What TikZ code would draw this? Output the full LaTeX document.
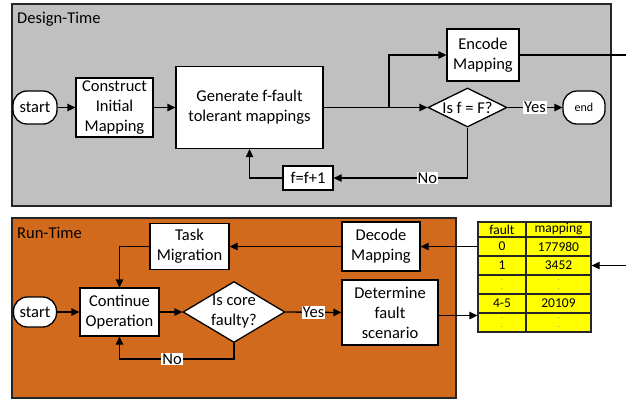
\documentclass[tikz,border=0pt]{standalone}
\usepackage{fontspec}
\setmainfont{Carlito}
\usetikzlibrary{shapes.geometric,arrows.meta}
\definecolor{dtgrey}{RGB}{192,192,192}
\definecolor{rtorange}{RGB}{210,106,30}
\definecolor{tblyellow}{RGB}{255,255,0}
\begin{document}
\begin{tikzpicture}[x=1pt,y=-1pt,
  font=\fontsize{16.5}{20}\selectfont,
  every node/.style={inner sep=0pt, align=center},
  procbox/.style={draw, fill=white, line width=1.3pt},
  termbox/.style={draw, fill=white, line width=1.3pt, rounded corners=14pt},
  decbox/.style={diamond, draw, fill=white, line width=1.3pt},
  lane/.style={draw=black!85, line width=1.8pt, anchor=north west},
  lanelabel/.style={anchor=west},
  arr/.style={line width=1.3pt, -{Triangle[length=8pt,width=7.5pt]}},
  conn/.style={line width=1.3pt},
  lbl/.style={fill=white, inner sep=1pt},
  cell/.style={draw=black!85, fill=tblyellow, line width=1.3pt,
    font=\fontsize{13.5}{14}\selectfont},
  dotcell/.style={cell, font=\fontsize{7}{9}\selectfont, text=black!60}
]
\useasboundingbox (0,0) rectangle (626,400);

% swim lanes
\node[lane, fill=dtgrey, minimum width=599, minimum height=202] (dt) at (11,3) {};
\node[lanelabel] (dtl) at (17,19) {Design-Time};
\node[lane, fill=rtorange, minimum width=444, minimum height=180] (rt) at (11,217) {};
\node[lanelabel] (rtl) at (17,233) {Run-Time};

% design-time flow
\node[termbox, minimum width=44, minimum height=33] (s1) at (35,107.5) {start};
\node[procbox, minimum width=77, minimum height=59] (cim) at (114.5,107.5) {Construct\\Initial\\Mapping};
\node[procbox, minimum width=147, minimum height=82] (gen) at (249.5,107.5) {Generate f-fault\\tolerant mappings};
\node[procbox, minimum width=72, minimum height=52] (enc) at (483,55) {Encode\\Mapping};
\node[decbox, minimum width=79, minimum height=39, label={center:Is f = F?}] (d1) at (467.5,107.5) {};
\node[termbox, minimum width=42, minimum height=33, font=\fontsize{12}{14}\selectfont] (e1) at (584,107.5) {end};
\node[procbox, minimum width=50, minimum height=24] (ff) at (308,178) {f=f+1};

\coordinate (br) at (389,107.5);
\coordinate (encout) at (626,55);
\draw[arr] (s1) -- (cim);
\draw[arr] (cim) -- (gen);
\draw[arr] (gen.east) -- (d1.west);
\draw[arr] (br) |- (enc.west);
\draw[conn] (enc.east) -- (encout);
\draw[arr] (d1.east) -- node[lbl]{Yes} (e1.west);
\draw[arr] (d1.south) |- node[lbl, pos=0.65]{No} (ff.east);
\draw[arr] (ff.west) -| (gen.south);

% run-time flow
\node[termbox, minimum width=43, minimum height=30] (s2) at (35,312) {start};
\node[procbox, minimum width=79, minimum height=48] (cont) at (119.5,312) {Continue\\Operation};
\node[decbox, minimum width=102, minimum height=61, label={center:Is core\\faulty?}] (d2) at (234,312) {};
\node[procbox, minimum width=96, minimum height=65] (det) at (390,312.5) {Determine\\fault\\scenario};
\node[procbox, minimum width=78, minimum height=49] (dec) at (381,246.5) {Decode\\Mapping};
\node[procbox, minimum width=79, minimum height=46] (tm) at (189.5,246.5) {Task\\Migration};

% mapping table
\node[cell, minimum width=48, minimum height=15] (r0a) at (502,229.5) {fault};
\node[cell, minimum width=65, minimum height=15] (r0b) at (558.5,229.5) {mapping};
\node[cell, minimum width=48, minimum height=19] (r1a) at (502,246.5) {0};
\node[cell, minimum width=65, minimum height=19] (r1b) at (558.5,246.5) {177980};
\node[cell, minimum width=48, minimum height=19] (r2a) at (502,265.5) {1};
\node[cell, minimum width=65, minimum height=19] (r2b) at (558.5,265.5) {3452};
\node[dotcell, minimum width=48, minimum height=19] (r3a) at (502,284.5) {.\\.};
\node[dotcell, minimum width=65, minimum height=19] (r3b) at (558.5,284.5) {.\\.};
\node[cell, minimum width=48, minimum height=19] (r4a) at (502,303.5) {4-5};
\node[cell, minimum width=65, minimum height=19] (r4b) at (558.5,303.5) {20109};
\node[dotcell, minimum width=48, minimum height=19] (r5a) at (502,322.5) {.\\.};
\node[dotcell, minimum width=65, minimum height=19] (r5b) at (558.5,322.5) {.\\.};

\coordinate (nb) at (234,359);
\coordinate (dout) at ([yshift=-3pt]det.east);
\coordinate (decin) at (626,265.5);
\draw[arr] (s2) -- (cont);
\draw[arr] (cont) -- (d2);
\draw[arr] (d2.east) -- node[lbl]{Yes} (det.west);
\draw[arr] (d2.south) -- (nb) -| node[lbl, pos=0.27]{No} (cont.south);
\draw[arr] (dec) -- (tm);
\draw[arr] (tm.west) -| (cont.north);
\draw[arr] (r1a.west) -- (dec.east);
\draw[arr] (dout) -- (dout -| r5a.west);
\draw[arr] (decin) -- (r2b.east);
\end{tikzpicture}
\end{document}
